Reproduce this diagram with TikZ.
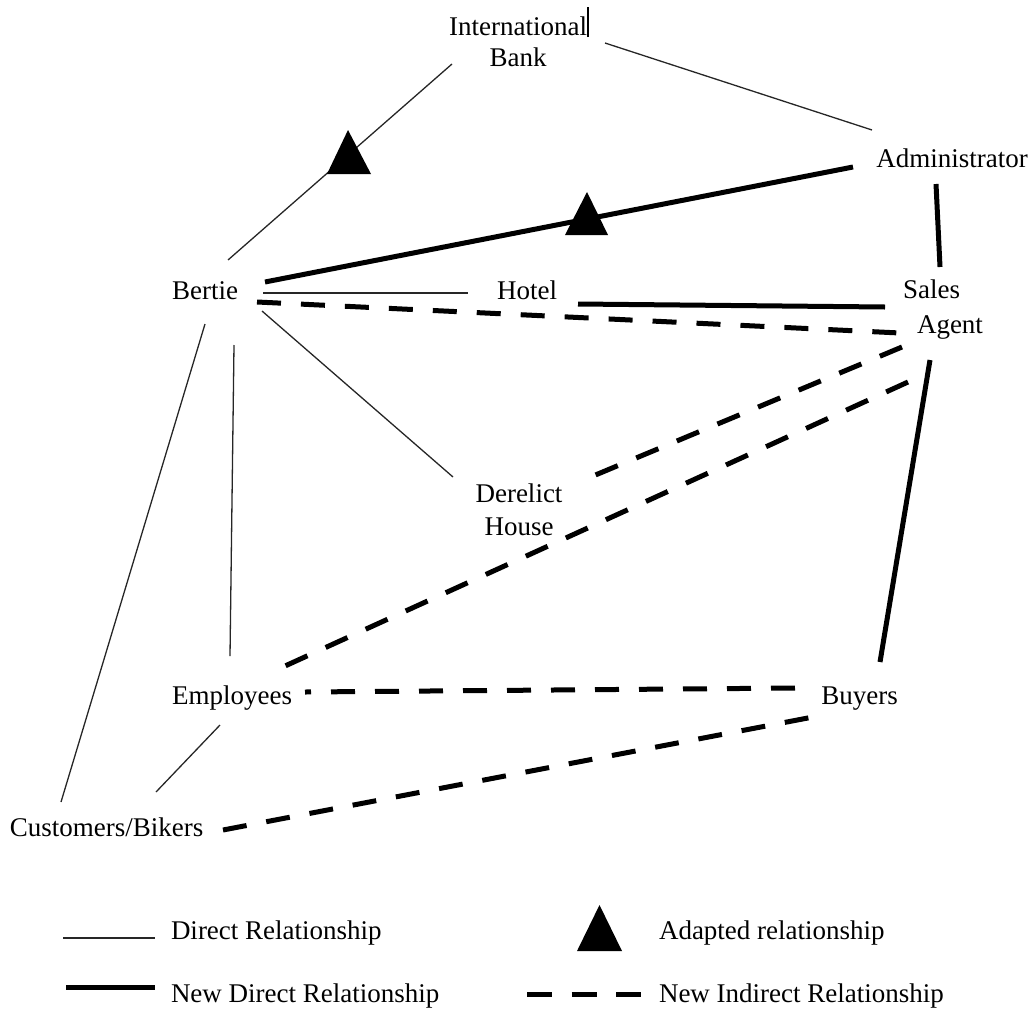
\documentclass[tikz,border=0pt]{standalone}
\usepackage{fontspec}
\setmainfont{Liberation Serif}
\begin{document}
\begin{tikzpicture}[x=1pt,y=-1pt,
  lbl/.style={inner sep=0pt,outer sep=0pt,font=\fontsize{27}{33}\selectfont},
  direct/.style={line width=1.3pt,black!85},
  newdirect/.style={line width=5pt},
  indirect/.style={line width=5pt,dash pattern=on 24pt off 20pt},
  adapted/.style={fill=black}]
\useasboundingbox (0,0) rectangle (1032,1017);
% nodes (base anchor = baseline of the last line)
\node[lbl,anchor=base,align=center] (bank) at (518,66) {International\rlap{\rule[-2pt]{1.8pt}{30pt}}\\[-2pt]Bank};
\node[lbl,anchor=base] (admin) at (952,167) {Administrator};
\node[lbl,anchor=base] (bertie) at (205,299) {Bertie};
\node[lbl,anchor=base] (hotel) at (527,299) {Hotel};
\node[lbl,anchor=base west,align=left] (sales) at (903,333) {Sales\\[2pt]\hspace*{14pt}Agent};
\node[lbl,anchor=base,align=center] (derelict) at (519,535) {Derelict\\House};
\node[lbl,anchor=base] (employees) at (232,704) {Employees};
\node[lbl,anchor=base] (buyers) at (859.5,704) {Buyers};
\node[lbl,anchor=base] (customers) at (106.5,836) {Customers/Bikers};
% connectors
\draw[direct] ([shift={(-66,-2)}]bank.base) -- ([shift={(23,-39)}]bertie.base);
\draw[direct] ([shift={(87,-23)}]bank.base) -- ([shift={(-80,-37)}]admin.base);
\draw[newdirect] ([shift={(60,-17)}]bertie.base) -- ([shift={(-99,0)}]admin.base);
\draw[newdirect] ([shift={(-16,17)}]admin.base) -- ([shift={(37,-66)}]sales.base west);
\draw[direct] ([shift={(58,-6)}]bertie.base) -- ([shift={(-59,-6)}]hotel.base);
\draw[newdirect] ([shift={(51,5)}]hotel.base) -- ([shift={(-18,-26)}]sales.base west);
\draw[indirect] ([shift={(52,3)}]bertie.base) -- ([shift={(-3,0)}]sales.base west);
\draw[indirect] ([shift={(-1,14)}]sales.base west) -- ([shift={(74,-59)}]derelict.base);
\draw[indirect] ([shift={(5,49)}]sales.base west) -- ([shift={(53,-38)}]employees.base);
\draw[newdirect] ([shift={(27,27)}]sales.base west) -- ([shift={(20.5,-42)}]buyers.base);
\draw[direct] ([shift={(57,12)}]bertie.base) -- ([shift={(-66,-58)}]derelict.base);
\draw[direct] ([shift={(29,46)}]bertie.base) -- ([shift={(-2,-48)}]employees.base);
\draw[direct] ([shift={(0,25)}]bertie.base) -- ([shift={(-45.5,-34)}]customers.base);
\draw[indirect,dash phase=18pt] ([shift={(73,-12)}]employees.base) -- ([shift={(-59.5,-16)}]buyers.base);
\draw[indirect] ([shift={(116.5,-6)}]customers.base) -- ([shift={(-46.5,13)}]buyers.base);
\draw[direct] ([shift={(-12,21)}]employees.base) -- ([shift={(49.5,-44)}]customers.base);
% adapted markers
\fill[adapted] (327,174) -- (371,174) -- (348,130) -- cycle;
\fill[adapted] (565,235) -- (608,235) -- (587,192) -- cycle;
% legend
\draw[direct] (63,938) -- (155,938);
\draw[newdirect] (66,987) -- (155,987);
\fill[adapted] (577,951) -- (622,951) -- (599.5,905) -- cycle;
\draw[line width=5pt,dash pattern=on 25pt off 19.5pt] (527,994) -- (642,994);
\node[lbl,anchor=base west] (l1) at (171,939) {Direct Relationship};
\node[lbl,anchor=base west] (l2) at (171,1002) {New Direct Relationship};
\node[lbl,anchor=base west] (l3) at (659,939) {Adapted relationship};
\node[lbl,anchor=base west] (l4) at (659,1002) {New Indirect Relationship};
\end{tikzpicture}
\end{document}
